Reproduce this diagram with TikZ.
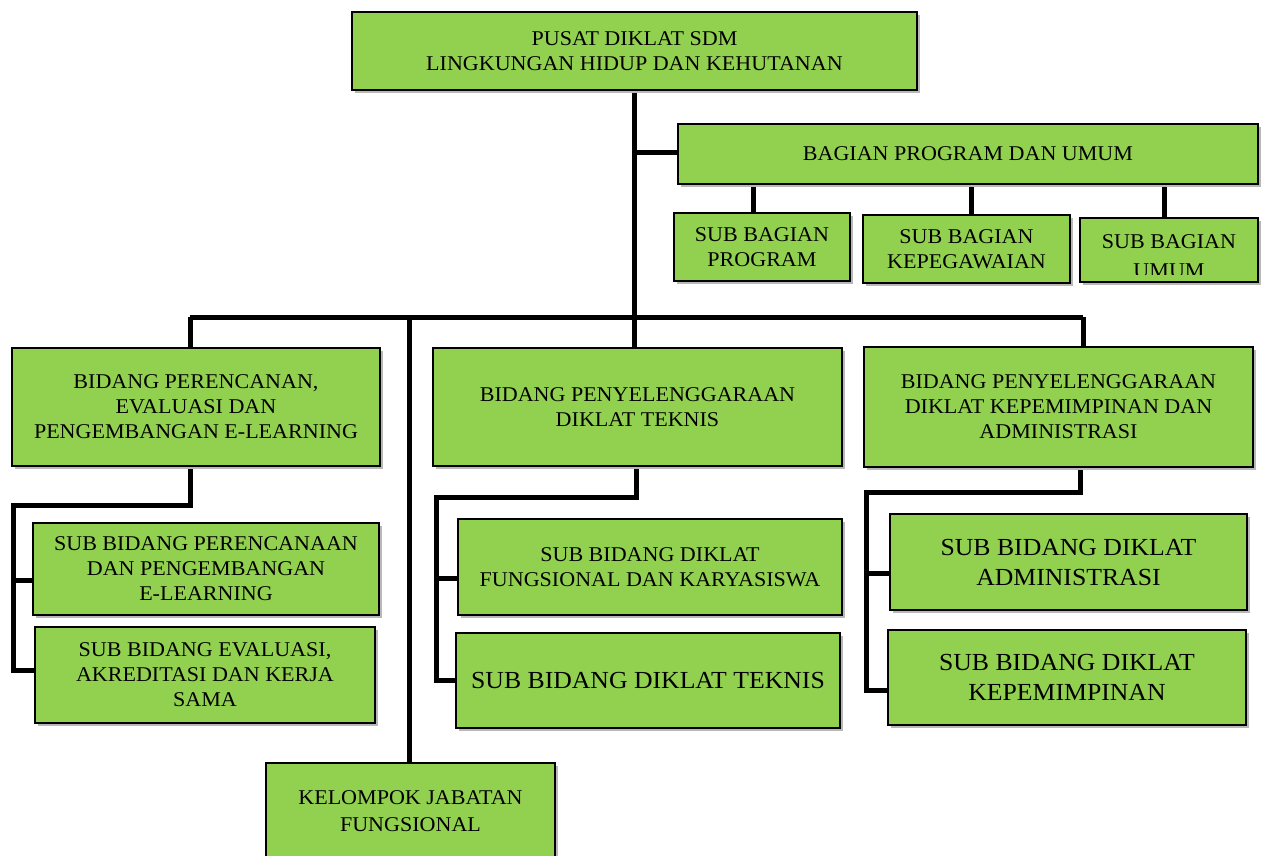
\documentclass[tikz,border=0pt]{standalone}
\usepackage{fontspec}
\setmainfont[FakeStretch=1.05]{Liberation Serif}
\usetikzlibrary{shadows,backgrounds}
\definecolor{boxgreen}{RGB}{146,208,80}
\begin{document}
\begin{tikzpicture}[x=1pt,y=-1pt,
  box/.style={draw=black,line width=1.6pt,fill=boxgreen,align=center,inner sep=0pt,
    drop shadow={shadow xshift=3pt,shadow yshift=-3pt,fill=black!28,opacity=1},
    font=\fontsize{21}{25}\selectfont},
  big/.style={font=\fontsize{24.5}{30}\selectfont},
  txt/.style={align=center,inner sep=0pt,font=\fontsize{21}{29}\selectfont},
  link/.style={line width=5pt,line join=miter,line cap=butt}]
\useasboundingbox (0,0) rectangle (1267,855);

% top level
\node[box,minimum width=565pt,minimum height=78pt] (top) at (634.5,51)
  {PUSAT DIKLAT SDM\\LINGKUNGAN HIDUP DAN KEHUTANAN};
\node[box,minimum width=580pt,minimum height=60pt] (bag) at (968,154)
  {BAGIAN PROGRAM DAN UMUM};
\node[box,minimum width=176pt,minimum height=68pt] (sb1) at (762,247)
  {SUB BAGIAN\\PROGRAM};
\node[box,minimum width=207pt,minimum height=68pt] (sb2) at (966.5,249)
  {SUB BAGIAN\\KEPEGAWAIAN};
\node[box,minimum width=178pt,minimum height=64pt] (sb3) at (1169,250) {};
\begin{scope}
  \clip (1082,220) rectangle (1256,274.5);
  \node[txt] (sb3t) at (1169,256) {SUB BAGIAN\\UMUM};
\end{scope}

% bidang
\node[box,minimum width=368pt,minimum height=118pt] (bid1) at (196,407)
  {BIDANG PERENCANAN,\\EVALUASI DAN\\PENGEMBANGAN E-LEARNING};
\node[box,minimum width=409pt,minimum height=118pt] (bid2) at (637.5,407)
  {BIDANG PENYELENGGARAAN\\DIKLAT TEKNIS};
\node[box,minimum width=389pt,minimum height=120pt] (bid3) at (1058.5,407)
  {BIDANG PENYELENGGARAAN\\DIKLAT KEPEMIMPINAN DAN\\ADMINISTRASI};

% sub bidang
\node[box,minimum width=346pt,minimum height=92pt] (s1a) at (206,569)
  {SUB BIDANG PERENCANAAN\\DAN PENGEMBANGAN\\E-LEARNING};
\node[box,minimum width=340pt,minimum height=96pt] (s1b) at (205,675)
  {SUB BIDANG EVALUASI,\\AKREDITASI DAN KERJA\\SAMA};
\node[box,minimum width=384pt,minimum height=96pt] (s2a) at (650,567)
  {SUB BIDANG DIKLAT\\FUNGSIONAL DAN KARYASISWA};
\node[box,big,minimum width=384pt,minimum height=95pt] (s2b) at (648,680.5)
  {SUB BIDANG DIKLAT TEKNIS};
\node[box,big,minimum width=357pt,minimum height=96pt] (s3a) at (1068.5,562)
  {SUB BIDANG DIKLAT\\ADMINISTRASI};
\node[box,big,minimum width=358pt,minimum height=95pt] (s3b) at (1067,677.5)
  {SUB BIDANG DIKLAT\\KEPEMIMPINAN};

% kelompok
\node[box,minimum width=289pt,minimum height=97pt,font=\fontsize{21}{27}\selectfont] (kel) at (410.5,811.5)
  {KELOMPOK JABATAN\\FUNGSIONAL};

% connectors
\coordinate (busL) at (190,317);
\coordinate (busR) at (1083,317);
\coordinate (busK) at (409,317);
\coordinate (lL) at (13,505);
\coordinate (mL) at (436,497);
\coordinate (rL) at (866,492);
\begin{scope}[on background layer]
  \draw[link] (634,90) -- (634,348);
  \draw[link] (634,152) -- (bag.west |- 0,152);
  \draw[link] (753,184) -- (753,213);
  \draw[link] (971,184) -- (971,215);
  \draw[link] (1164,184) -- (1164,218);
  \draw[link] (busL) -- (busR);
  \draw[link] (busL) -- (busL |- bid1.north);
  \draw[link] (busR) -- (busR |- bid3.north);
  \draw[link] (busK) -- (busK |- kel.north);
  % left group
  \draw[link] (190,466) -- (190,505) -- (lL) -- (13,670) -- (13,670 -| s1b.west);
  \draw[link] (13,580) -- (13,580 -| s1a.west);
  % middle group
  \draw[link] (636,466) -- (636,497) -- (mL) -- (436,680) -- (436,680 -| s2b.west);
  \draw[link] (436,578) -- (436,578 -| s2a.west);
  % right group
  \draw[link] (1080,466) -- (1080,492) -- (rL) -- (866,690) -- (866,690 -| s3b.west);
  \draw[link] (866,573) -- (866,573 -| s3a.west);
\end{scope}
\end{tikzpicture}
\end{document}
